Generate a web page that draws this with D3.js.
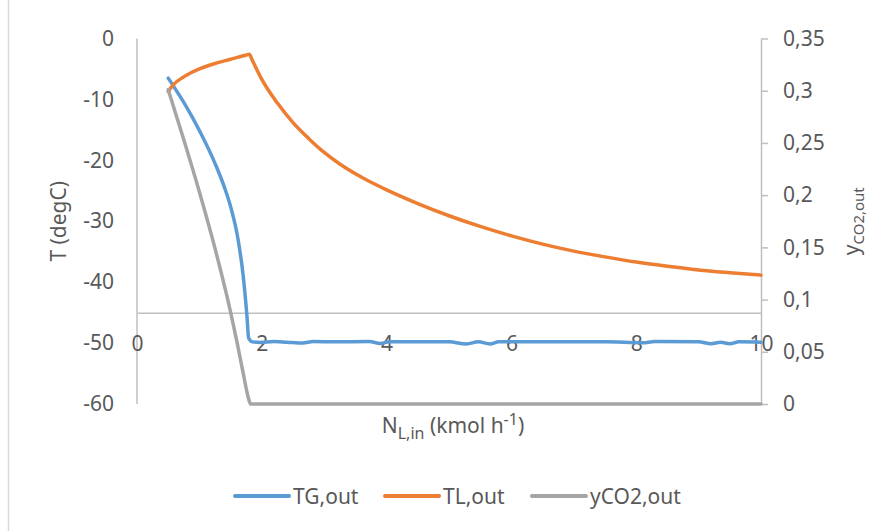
<!DOCTYPE html>
<html>
<head>
<meta charset="utf-8">
<script src="https://cdn.jsdelivr.net/npm/d3@7"></script>
<style>
  body { margin: 0; background: #fff; }
  text { font-family: "Noto Sans", sans-serif; fill: #595959; }
</style>
</head>
<body>
<svg id="chart" width="886" height="531"></svg>
<script>
// Axis ticks
const xTicks = [0, 2, 4, 6, 8, 10];
const tTicks = [0, -10, -20, -30, -40, -50, -60];
const yTicks = [0, 0.05, 0.1, 0.15, 0.2, 0.25, 0.3, 0.35];
const yTickLabels = ["0", "0,05", "0,1", "0,15", "0,2", "0,25", "0,3", "0,35"];

// Gas outlet temperature TG,out (degC) vs liquid feed N_L,in (kmol/h)
const tgN = [0.5, 0.75, 1.0, 1.25, 1.4, 1.5, 1.62, 1.7, 1.76, 1.79, 1.85, 1.97, 2.2, 2.4, 2.66, 2.82, 3.2, 3.72, 3.9, 4.05, 4.5, 5.0, 5.28, 5.47, 5.66, 5.8, 6.5, 7.5, 8.1, 8.3, 9.0, 9.2, 9.35, 9.5, 9.65, 10];
const tgT = [-6.5, -10.5, -15.1, -20.5, -24.4, -27.6, -33.0, -38.8, -45.3, -49.2, -49.8, -49.9, -49.75, -49.85, -50.0, -49.75, -49.8, -49.75, -50.05, -49.8, -49.8, -49.8, -50.15, -49.8, -50.15, -49.8, -49.8, -49.8, -49.95, -49.75, -49.8, -50.1, -49.85, -50.1, -49.8, -49.85];

// Liquid outlet temperature TL,out (degC)
const tlN = [0.5, 0.58, 0.75, 1.0, 1.25, 1.5, 1.74, 1.8, 1.84, 2.0, 2.25, 2.5, 2.75, 3.0, 3.25, 3.5, 3.75, 4.0, 4.5, 5.0, 5.5, 6.0, 6.5, 7.0, 7.5, 8.0, 8.5, 9.0, 9.5, 10];
const tlT = [-8.7, -7.6, -6.3, -5.0, -4.1, -3.4, -2.75, -2.6, -3.4, -6.7, -10.6, -13.8, -16.4, -18.7, -20.6, -22.2, -23.6, -24.85, -27.1, -29.1, -30.85, -32.4, -33.75, -34.9, -35.85, -36.7, -37.4, -38.0, -38.45, -38.85];

// CO2 mole fraction in outlet gas yCO2,out (secondary axis)
const co2N = [0.5, 0.75, 1.0, 1.25, 1.5, 1.6, 1.7, 1.78, 1.82, 2.0, 4.0, 6.0, 8.0, 10];
const co2Y = [0.301, 0.253, 0.203, 0.149, 0.088, 0.060, 0.030, 0.007, 0.0, 0.0, 0.0, 0.0, 0.0, 0.0];

const seriesNames = ["TG,out", "TL,out", "yCO2,out"];
const seriesColors = ["#5B9BD5", "#ED7D31", "#A5A5A5"];

const svg = d3.select("#chart");
const axisColor = "#BFBFBF";

const x = d3.scaleLinear().domain([0, 10]).range([137, 761]);
const yT = d3.scaleLinear().domain([-60, 0]).range([404, 38.5]);
const yC = d3.scaleLinear().domain([0, 0.35]).range([404, 38.5]);

// outer chart border (left edge)
svg.append("line").attr("x1", 8.5).attr("x2", 8.5).attr("y1", 0).attr("y2", 531)
  .attr("stroke", "#D9D9D9").attr("stroke-width", 1.5);

function styleAxis(g) {
  g.selectAll(".domain").attr("stroke", axisColor).attr("stroke-width", 1.5);
  g.selectAll(".tick line").attr("stroke", axisColor).attr("stroke-width", 1.5);
  g.selectAll("text").attr("font-size", 21).attr("font-family", "Noto Sans").attr("fill", "#595959");
}

// primary (left) axis
const gl = svg.append("g").attr("transform", `translate(${x(0)},0)`)
  .call(d3.axisLeft(yT).tickValues(tTicks).tickSize(0).tickPadding(23).tickFormat(d => String(d)));
gl.call(styleAxis);
gl.selectAll(".domain").attr("d", `M0,${yT(0)}V${yT(-60)}`);

// secondary (right) axis
const gr = svg.append("g").attr("transform", `translate(${x(10)},0)`)
  .call(d3.axisRight(yC).tickValues(yTicks).tickSizeInner(7).tickSizeOuter(0).tickPadding(15)
    .tickFormat((d, i) => yTickLabels[i]));
gr.call(styleAxis);
gr.selectAll(".tick text").attr("text-anchor", "start");

// horizontal axis crossing the primary axis at -45
const gx = svg.append("g").attr("transform", `translate(0,${yT(-45)})`)
  .call(d3.axisBottom(x).tickValues(xTicks).tickSize(0).tickFormat(d => String(d)));
gx.call(styleAxis);
gx.selectAll(".tick text").attr("y", yT(-50) - yT(-45) + 1).attr("dy", "0.35em");

// series lines
const lineT = d3.line().x(d => x(d[0])).y(d => yT(d[1])).curve(d3.curveMonotoneX);
const lineC = d3.line().x(d => x(d[0])).y(d => yC(d[1])).curve(d3.curveMonotoneX);

svg.append("path").datum(d3.zip(tgN, tgT)).attr("d", lineT)
  .attr("fill", "none").attr("stroke", seriesColors[0]).attr("stroke-width", 3.5)
  .attr("stroke-linejoin", "round").attr("stroke-linecap", "round");
svg.append("path").datum(d3.zip(tlN, tlT)).attr("d", lineT)
  .attr("fill", "none").attr("stroke", seriesColors[1]).attr("stroke-width", 3.5)
  .attr("stroke-linejoin", "round").attr("stroke-linecap", "round");
svg.append("path").datum(d3.zip(co2N, co2Y)).attr("d", lineC)
  .attr("fill", "none").attr("stroke", seriesColors[2]).attr("stroke-width", 3.5)
  .attr("stroke-linejoin", "round").attr("stroke-linecap", "round");

// axis titles
svg.append("text")
  .attr("transform", `translate(66,${(yT(0) + yT(-60)) / 2}) rotate(-90)`)
  .attr("text-anchor", "middle").attr("font-size", 21).text("T (degC)");

const rt = svg.append("text")
  .attr("transform", `translate(859,${(yC(0) + yC(0.35)) / 2}) rotate(-90)`)
  .attr("text-anchor", "middle").attr("font-size", 21);
rt.append("tspan").text("y");
rt.append("tspan").attr("font-size", 15).attr("dy", 5).text("CO2,out");

const xt = svg.append("text")
  .attr("x", 453).attr("y", 433).attr("text-anchor", "middle").attr("font-size", 21);
xt.append("tspan").text("N");
xt.append("tspan").attr("font-size", 16).attr("dy", 6).text("L,in");
xt.append("tspan").attr("dy", -6).text(" (kmol h");
xt.append("tspan").attr("font-size", 16).attr("dy", -8).text("-1");
xt.append("tspan").attr("dy", 8).text(")");

// legend
const legendX = [235, 385, 532];
const lg = svg.append("g");
seriesNames.forEach((name, i) => {
  lg.append("line").attr("x1", legendX[i]).attr("x2", legendX[i] + 54)
    .attr("y1", 496).attr("y2", 496)
    .attr("stroke", seriesColors[i]).attr("stroke-width", 4).attr("stroke-linecap", "round");
  lg.append("text").attr("x", legendX[i] + 58).attr("y", 504)
    .attr("font-size", 21).text(name);
});
</script>
</body>
</html>
